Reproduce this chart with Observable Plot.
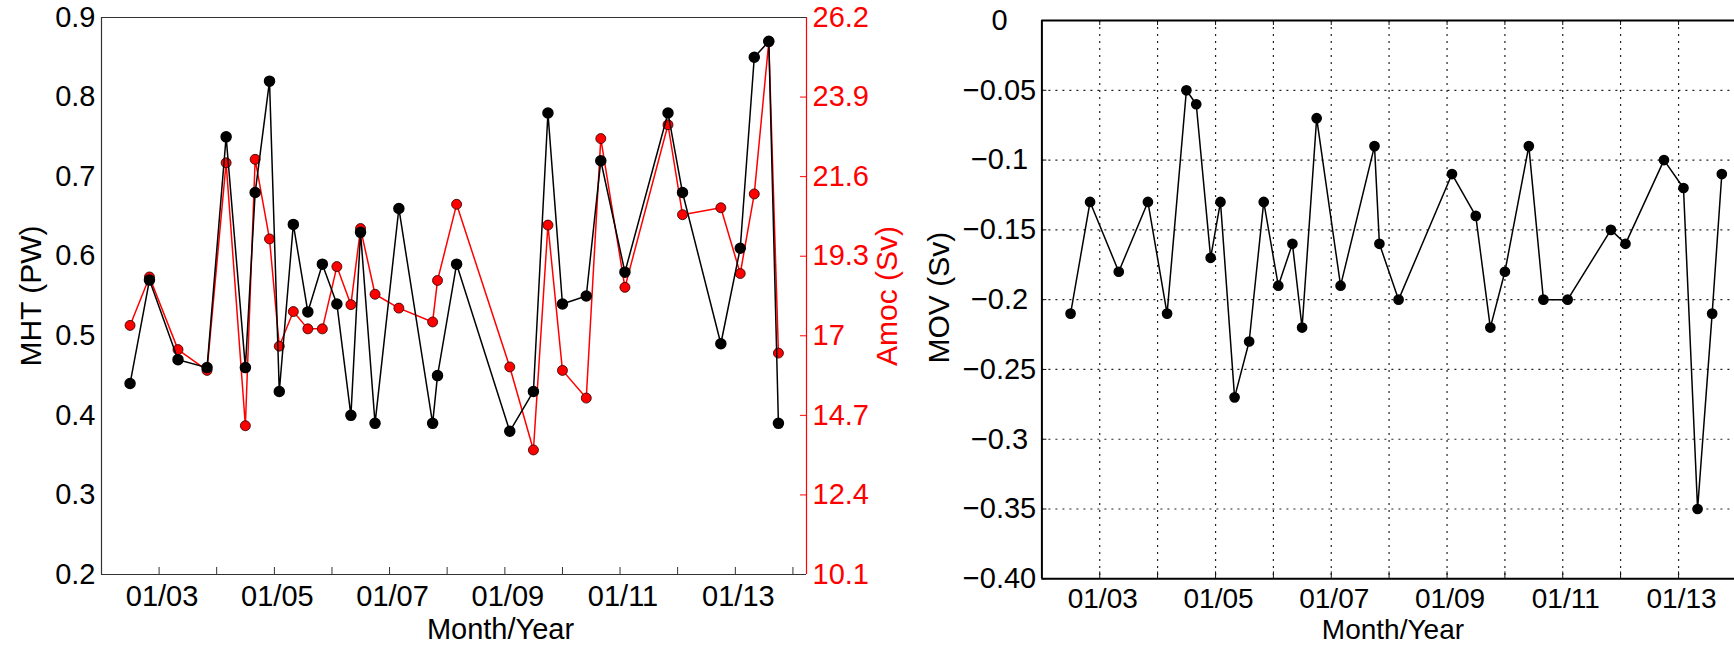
<!DOCTYPE html>
<html><head><meta charset="utf-8">
<script src="https://cdn.jsdelivr.net/npm/d3@7"></script>
<script src="https://cdn.jsdelivr.net/npm/@observablehq/plot@0.6"></script>
<style>
html,body{margin:0;padding:0;background:#fff;overflow:hidden;width:1734px;height:645px;}
#wrap{position:relative;width:1734px;height:645px;overflow:hidden;}
#wrap svg{position:absolute;top:0;}
</style></head><body><div id="wrap"></div>
<script>
// ---- data ----
const months = ["2002-07","2002-11","2003-05","2003-11","2004-03","2004-07","2004-09","2004-12",
  "2005-02","2005-05","2005-08","2005-11","2006-02","2006-05","2006-07","2006-10","2007-03",
  "2007-10","2007-11","2008-03","2009-02","2009-07","2009-10","2010-01","2010-06","2010-09",
  "2011-02","2011-11","2012-02","2012-10","2013-02","2013-05","2013-08","2013-10"];
const mht = [0.44,0.57,0.47,0.46,0.75,0.46,0.68,0.82,0.43,0.64,0.53,0.59,0.54,0.40,0.63,0.39,0.66,
  0.39,0.45,0.59,0.38,0.43,0.78,0.54,0.55,0.72,0.58,0.78,0.68,0.49,0.61,0.85,0.87,0.39];
const amoc = [17.3,18.7,16.6,16.0,22.0,14.4,22.1,19.8,16.7,17.7,17.2,17.2,19.0,17.9,20.1,18.2,17.8,
  17.4,18.6,20.8,16.1,13.7,20.2,16.0,15.2,22.7,18.4,23.1,20.5,20.7,18.8,21.1,25.5,16.5];
const mov = [-0.21,-0.13,-0.18,-0.13,-0.21,-0.05,-0.06,-0.17,-0.13,-0.27,-0.23,-0.13,-0.19,-0.16,-0.22,
  -0.07,-0.19,-0.09,-0.16,-0.20,-0.11,-0.14,-0.22,-0.18,-0.09,-0.20,-0.20,-0.15,-0.16,-0.10,-0.12,
  -0.35,-0.21,-0.11];
const tickYears = [2003,2004,2005,2006,2007,2008,2009,2010,2011,2012,2013,2014];
const labelYears = [2003,2005,2007,2009,2011,2013];
const mhtTicks = [0.2,0.3,0.4,0.5,0.6,0.7,0.8,0.9];
const mhtTickLabels = ["0.2","0.3","0.4","0.5","0.6","0.7","0.8","0.9"];
const amocTicks = [10.1,12.4,14.7,17,19.3,21.6,23.9,26.2];
const amocTickLabels = ["10.1","12.4","14.7","17","19.3","21.6","23.9","26.2"];
const movTicks = [0,-0.05,-0.1,-0.15,-0.2,-0.25,-0.3,-0.35,-0.4];
const movTickLabels = ["0","\u22120.05","\u22120.1","\u22120.15","\u22120.2","\u22120.25","\u22120.3","\u22120.35","\u22120.40"];

// ---- build ----
const parse = d3.utcParse("%Y-%m");
const data = months.map((m,i)=>({date: parse(m), mht: mht[i], amoc: amoc[i], mov: mov[i]}));
const xDomain = [new Date(Date.UTC(2002,0,1)), new Date(Date.UTC(2014,2,28))];
// the right panel is cut by the picture edge: only its visible part is drawn
const xDomainRight = [new Date(Date.UTC(2002,0,1)), new Date(Date.UTC(2013,11,20))];
const yearTicks = tickYears.map(y => new Date(Date.UTC(y,0,1)));
const yearTicksRight = yearTicks.filter(d => d <= xDomainRight[1]);
const labelTicks = labelYears.map(y => new Date(Date.UTC(y,0,1)));
const fmt = d3.utcFormat("%m/%y");
const font = "'Liberation Sans', Arial, Helvetica, sans-serif";
const style = {background:"transparent", maxWidth:"none", overflow:"visible", fontFamily: font, fontSize:"29px", color:"black"};
const lab = (arr, labels) => d => labels[arr.findIndex(v => Math.abs(v - d) < 1e-9)];

const L = {width: 910, height: 645, marginLeft: 101, marginRight: 104, marginTop: 17, marginBottom: 71};
const LW = L.width - L.marginLeft - L.marginRight, LH = L.height - L.marginTop - L.marginBottom;

const red = Plot.plot({...L, style,
  x: {type: "utc", domain: xDomain, axis: null},
  y: {domain: [10.1, 26.2]},
  marks: [
    Plot.ruleX([xDomain[1]], {stroke: "red", strokeWidth: 1.2}),
    Plot.ruleY(amocTicks, {stroke: "red", strokeWidth: 1, insetLeft: LW - 6}),
    Plot.axisY({anchor: "right", ticks: amocTicks, tickSize: 0, tickPadding: 6, tickFormat: lab(amocTicks, amocTickLabels), color: "red", fontSize: 29, label: null}),
    Plot.line(data, {x: "date", y: "amoc", stroke: "red", strokeWidth: 1.5}),
    Plot.dot(data, {x: "date", y: "amoc", r: 5, fill: "red", stroke: "#200", strokeWidth: 0.8}),
    Plot.text(["Amoc (Sv)"], {text: d => d, frameAnchor: "right", dx: 81, rotate: -90, fill: "red", fontSize: 30, textAnchor: "middle", lineAnchor: "middle"})
  ]
});

const black = Plot.plot({...L, style,
  x: {type: "utc", domain: xDomain},
  y: {domain: [0.2, 0.9]},
  marks: [
    Plot.ruleY([0.9], {stroke: "#333", strokeWidth: 1}),
    Plot.ruleY([0.2], {stroke: "#333", strokeWidth: 1.2}),
    Plot.ruleX([xDomain[0]], {stroke: "#333", strokeWidth: 1.2}),
    Plot.ruleX(yearTicks, {stroke: "#333", strokeWidth: 1, insetTop: LH - 7}),
    Plot.axisX({ticks: labelTicks, tickSize: 0, tickPadding: 11, tickFormat: fmt, fontSize: 29, label: null, dx: 3}),
    Plot.axisY({ticks: mhtTicks, tickSize: 0, tickPadding: 6, tickFormat: lab(mhtTicks, mhtTickLabels), fontSize: 29, label: null}),
    Plot.line(data, {x: "date", y: "mht", stroke: "black", strokeWidth: 1.5}),
    Plot.dot(data, {x: "date", y: "mht", r: 5, fill: "black", stroke: "black"}),
    Plot.text(["MHT (PW)"], {text: d => d, frameAnchor: "left", dx: -70, rotate: -90, fontSize: 30, textAnchor: "middle", lineAnchor: "middle"}),
    Plot.text(["Month/Year"], {text: d => d, frameAnchor: "bottom", dx: 46.5, dy: 55.5, fontSize: 29, textAnchor: "middle", lineAnchor: "middle"})
  ]
});

const R = {width: 824, height: 645, marginLeft: 131.4, marginRight: 0, marginTop: 20, marginBottom: 66.7};
const RW = R.width - R.marginLeft - R.marginRight, RH = R.height - R.marginTop - R.marginBottom;
const right = Plot.plot({...R, style,
  x: {type: "utc", domain: xDomainRight},
  y: {domain: [-0.4, 0]},
  marks: [
    Plot.ruleY(movTicks.slice(1, -1), {stroke: "#222", strokeWidth: 1.2, strokeDasharray: "2,5"}),
    Plot.ruleX(yearTicksRight, {stroke: "#222", strokeWidth: 1.2, strokeDasharray: "2,5"}),
    Plot.ruleX(yearTicksRight, {stroke: "#111", strokeWidth: 1, insetTop: RH - 7}),
    Plot.ruleX(yearTicksRight, {stroke: "#111", strokeWidth: 1, insetBottom: RH - 5}),
    Plot.ruleY(movTicks, {stroke: "#111", strokeWidth: 1, insetRight: RW - 5}),
    Plot.ruleY([0], {stroke: "black", strokeWidth: 2}),
    Plot.ruleY([-0.4], {stroke: "black", strokeWidth: 2}),
    Plot.ruleX([xDomainRight[0]], {stroke: "black", strokeWidth: 2}),
    Plot.axisY({ticks: movTicks, tickSize: 0, tickPadding: 42.4, textAnchor: "middle", tickFormat: lab(movTicks, movTickLabels), fontSize: 29, label: null}),
    Plot.axisX({ticks: labelTicks, tickSize: 0, tickPadding: 9, tickFormat: fmt, fontSize: 28, label: null, dx: 3}),
    Plot.line(data, {x: "date", y: "mov", stroke: "black", strokeWidth: 1.5}),
    Plot.dot(data, {x: "date", y: "mov", r: 4.6, fill: "black", stroke: "black"}),
    Plot.text(["MOV (Sv)"], {text: d => d, frameAnchor: "left", dx: -103, dy: -2, rotate: -90, fontSize: 30, textAnchor: "middle", lineAnchor: "middle"}),
    Plot.text(["Month/Year"], {text: d => d, frameAnchor: "bottom", dx: 12.5 - (1749.5 - 1734) / 2, dy: 51.7, fontSize: 28, textAnchor: "middle", lineAnchor: "middle"})
  ]
});

const wrap = document.getElementById("wrap");
red.style.left = "0px"; black.style.left = "0px"; right.style.left = "910px";
wrap.appendChild(red); wrap.appendChild(black); wrap.appendChild(right);
</script></body></html>
